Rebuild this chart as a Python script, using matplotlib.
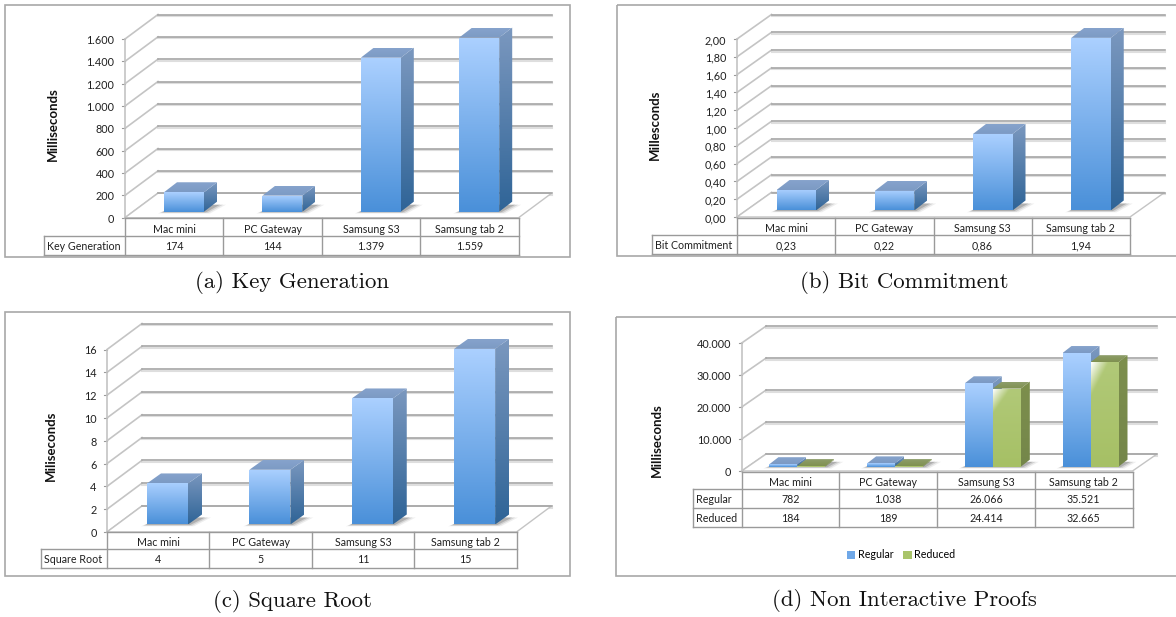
import numpy as np
import matplotlib
matplotlib.use('Agg')
import matplotlib.pyplot as plt
from matplotlib.colors import to_rgb
from matplotlib.patches import Polygon, Patch

W, H = 1176, 617
CHART_FONT = 'Lato'
GRID = '#a6a6a6'
WALL = '#c4c4c4'
EDGE = '#9a9a9a'

categories = ['Mac mini', 'PC Gateway', 'Samsung S3', 'Samsung tab 2']

key_generation = [174, 144, 1379, 1559]
key_generation_labels = ['174', '144', '1.379', '1.559']
key_ticks = [0, 200, 400, 600, 800, 1000, 1200, 1400, 1600]
key_tick_labels = ['0', '200', '400', '600', '800', '1.000', '1.200', '1.400', '1.600']

bit_commitment = [0.23, 0.22, 0.86, 1.94]
bit_commitment_labels = ['0,23', '0,22', '0,86', '1,94']
bit_ticks = [0, 0.2, 0.4, 0.6, 0.8, 1.0, 1.2, 1.4, 1.6, 1.8, 2.0]
bit_tick_labels = ['0,00', '0,20', '0,40', '0,60', '0,80', '1,00', '1,20', '1,40', '1,60', '1,80', '2,00']

square_root = [3.6, 4.8, 11.05, 15.4]
square_root_labels = ['4', '5', '11', '15']
root_ticks = [0, 2, 4, 6, 8, 10, 12, 14, 16]
root_tick_labels = ['0', '2', '4', '6', '8', '10', '12', '14', '16']

regular = [782, 1038, 26066, 35521]
regular_labels = ['782', '1.038', '26.066', '35.521']
reduced = [184, 189, 24414, 32665]
reduced_labels = ['184', '189', '24.414', '32.665']
proof_ticks = [0, 10000, 20000, 30000, 40000]
proof_tick_labels = ['0', '10.000', '20.000', '30.000', '40.000']

BLUE = dict(front=('#abd0ff', '#4a90d9'), side=('#7b98bf', '#2f6497'), top=('#86a3cc', '#7c9ac4'))
GREEN = dict(front=('#b1c978', '#a6c065'), side=('#7d8f4d', '#74864a'), top=('#8e9d6a', '#7f9150'))


def fill_gradient(ax, points, colors, sheen=False):
    # vertical gradient clipped to a polygon
    pts = np.array(points)
    c0, c1 = np.array(to_rgb(colors[0])), np.array(to_rgb(colors[1]))
    t = np.linspace(0, 1, 64)[:, None, None]
    img = np.ones((64, 32, 1)) * t * c1 + (1 - np.ones((64, 32, 1)) * t) * c0
    if sheen:
        # white corner top left on the green bars
        yy, xx = np.mgrid[0:1:64j, 0:1:32j]
        glow = np.clip(1 - (xx * 1.6 + yy * 3.2), 0, 1)[:, :, None]
        img = img * (1 - glow) + glow
    extent = (pts[:, 0].min(), pts[:, 0].max(), pts[:, 1].min(), pts[:, 1].max())
    im = ax.imshow(img, extent=extent, aspect='auto', origin='upper', interpolation='bilinear', zorder=5)
    im.set_clip_path(Polygon(pts, closed=True, transform=ax.transData))


def draw_bar(ax, left, width, value, lift, ddx, ddy, style, sheen=False):
    right = left + width
    base, top = lift, lift + value
    fill_gradient(ax, [(right, base), (right + ddx, base + ddy), (right + ddx, top + ddy), (right, top)], style['side'])
    fill_gradient(ax, [(left, top), (right, top), (right + ddx, top + ddy), (left + ddx, top + ddy)], style['top'])
    fill_gradient(ax, [(left, base), (right, base), (right, top), (left, top)], style['front'], sheen)


def draw_panel(overlay, g, series, styles, ticks, tick_labels, rows, caption):
    frame = g['frame']
    x0, x1, y0, yt = g['x0'], g['x1'], g['y0'], g['ytop']
    ymax = ticks[-1]
    sx = (x1 - x0) / len(categories)
    sy = (y0 - yt) / ymax
    fl, ft, fr, fb = frame

    ax = overlay.figure.add_axes([fl / W, 1 - fb / H, (fr - fl) / W, (fb - ft) / H])
    ax.set_axis_off()
    ax.patch.set_alpha(0)
    dx, dy = g['dx'] / sx, g['dy'] / sy

    # floor
    n = len(categories)
    ax.add_patch(Polygon([(0, 0), (n, 0), (n + dx, dy), (dx, dy)], closed=True, fc='white', ec=WALL, lw=1.0, zorder=2))

    # walls and gridlines
    for v in ticks:
        shadow = -1.5 / sy
        ax.plot([dx, n + dx], [v + dy + shadow, v + dy + shadow], color='#dedede', lw=1.5, zorder=1)
        ax.plot([0, dx], [v, v + dy], color=WALL, lw=1.2, zorder=1.5)
        ax.plot([dx, n + dx], [v + dy, v + dy], color=GRID, lw=1.2, zorder=2.5)
        ax.plot([-3 / sx, 0], [v, v], color=EDGE, lw=0.8, zorder=3)
    ax.plot([0, 0], [0, ymax], color=WALL, lw=1.2, zorder=3)

    # bars
    ddx, ddy = g['ddx'] / sx, g['ddy'] / sy
    lift = g['lift'] / sy
    width = g['bar_w'] / sx
    for i in range(n):
        start = i + g['bar_off'] / sx
        # soft shadow on the floor
        total = width * len(series)
        for grow, alpha in ((6, 0.08), (4, 0.14), (2, 0.22)):
            ax.add_patch(Polygon([(start - grow / sx, lift - 0.3 * grow / sy),
                                  (start + total + grow / sx, lift - 0.3 * grow / sy),
                                  (start + total + ddx + 1.5 * grow / sx, lift + ddy * 0.7),
                                  (start + ddx, lift + ddy * 0.7)],
                                 closed=True, fc='#303030', ec='none', alpha=alpha, zorder=4))
        for j, values in enumerate(series):
            draw_bar(ax, start + j * width, width, values[i], lift, ddx, ddy, styles[j], sheen=styles[j] is GREEN)

    ax.set_xlim((fl - x0) / sx, (fr - x0) / sx)
    ax.set_ylim((y0 - fb) / sy, (y0 - ft) / sy)

    # tick labels and axis title
    for v, lab in zip(ticks, tick_labels):
        ax.text(-10.5 / sx, v - 1.5 / sy, lab, ha='right', va='center', fontsize=7.8, family=CHART_FONT, color='#202020')
    overlay.text(g['title_x'], g['title_y'], g['title'], rotation=90, ha='center', va='center',
                 fontsize=9.5, fontweight='bold', family=CHART_FONT, color='#111111')

    # frame
    overlay.add_patch(Polygon([(fl, ft), (fr, ft), (fr, fb), (fl, fb)], closed=True, fc='none', ec='#a8a8a8', lw=1.2, zorder=1))

    # data table under the chart
    ys = g['table_y']
    cols = [x0 + sx * k for k in range(n + 1)]
    tl = g['table_left']
    for cx in cols:
        overlay.plot([cx, cx], [ys[0], ys[-1]], color=EDGE, lw=1.0)
    overlay.plot([tl, tl], [ys[1], ys[-1]], color=EDGE, lw=1.0)
    overlay.plot([x0, x1], [ys[0], ys[0]], color=EDGE, lw=1.0)
    for yy in ys[1:]:
        overlay.plot([tl, x1], [yy, yy], color=EDGE, lw=1.0)
    for k, cat in enumerate(categories):
        overlay.text(x0 + sx * (k + 0.5), (ys[0] + ys[1]) / 2 + 2.5, cat, ha='center', va='center', fontsize=7.7, family=CHART_FONT, color='#202020')
    for r, (name, labels) in enumerate(rows):
        ym = (ys[r + 1] + ys[r + 2]) / 2 + 1
        overlay.text(tl + 3, ym, name, ha='left', va='center', fontsize=7.7, family=CHART_FONT, color='#202020')
        for k, lab in enumerate(labels):
            overlay.text(x0 + sx * (k + 0.5), ym, lab, ha='center', va='center', fontsize=7.7, family=CHART_FONT, color='#202020')

    overlay.text(g['cap_x'], g['cap_y'], caption, ha='center', va='center', fontsize=16.4, family='cmr10', color='#111111')


fig = plt.figure(figsize=(W / 100, H / 100), dpi=100)
overlay = fig.add_axes([0, 0, 1, 1], zorder=10)
overlay.set_xlim(0, W)
overlay.set_ylim(H, 0)
overlay.set_axis_off()
overlay.patch.set_alpha(0)

draw_panel(overlay,
           dict(frame=(5, 4.7, 570, 257), x0=125, x1=518.6, y0=217.7, ytop=39, dx=33, dy=24.5, ddx=13, ddy=10, lift=6,
                bar_w=40, bar_off=39, title='Milliseconds', title_x=52.5, title_y=124, table_left=44, table_y=[218, 236, 254.5],
                cap_x=292, cap_y=283),
           [key_generation], [BLUE], key_ticks, key_tick_labels,
           [('Key Generation', key_generation_labels)], '(a) Key Generation')

draw_panel(overlay,
           dict(frame=(617, 4.7, 1179, 256), x0=737, x1=1130, y0=217, ytop=39, dx=34.5, dy=24.5, ddx=13, ddy=10, lift=6.5,
                bar_w=39.5, bar_off=39.5, title='Millesconds', title_x=654.5, title_y=124.7, table_left=652, table_y=[217.5, 235, 254],
                cap_x=904, cap_y=283),
           [bit_commitment], [BLUE], bit_ticks, bit_tick_labels,
           [('Bit Commitment', bit_commitment_labels)], '(b) Bit Commitment')

draw_panel(overlay,
           dict(frame=(5, 312, 570, 575.5), x0=107, x1=516.5, y0=532, ytop=349.5, dx=35, dy=26, ddx=14, ddy=10, lift=7.5,
                bar_w=41, bar_off=40, title='Miliseconds', title_x=50.6, title_y=446, table_left=41, table_y=[532, 548.5, 568],
                cap_x=292, cap_y=601.5),
           [square_root], [BLUE], root_ticks, root_tick_labels,
           [('Square Root', square_root_labels)], '(c) Square Root')

draw_panel(overlay,
           dict(frame=(616, 317.3, 1179, 575.7), x0=741.7, x1=1132.5, y0=471, ytop=343, dx=24.5, dy=17, ddx=9, ddy=7, lift=4.3,
                bar_w=28, bar_off=27.7, title='Milliseconds', title_x=656.6, title_y=440.5, table_left=693, table_y=[472, 489, 508, 527],
                cap_x=904, cap_y=601),
           [regular, reduced], [BLUE, GREEN], proof_ticks, proof_tick_labels,
           [('Regular', regular_labels), ('Reduced', reduced_labels)], '(d) Non Interactive Proofs')

handles = [Patch(fc='#6fa8e8', ec='none', label='Regular'), Patch(fc='#a9c46a', ec='none', label='Reduced')]
overlay.legend(handles=handles, loc='center', bbox_to_anchor=(901, 555), bbox_transform=overlay.transData, ncol=2, frameon=False,
               prop={'family': CHART_FONT, 'size': 7.7}, handlelength=0.8, handleheight=0.8, handletextpad=0.25, columnspacing=0.9)

fig.savefig('out.png', dpi=100)
